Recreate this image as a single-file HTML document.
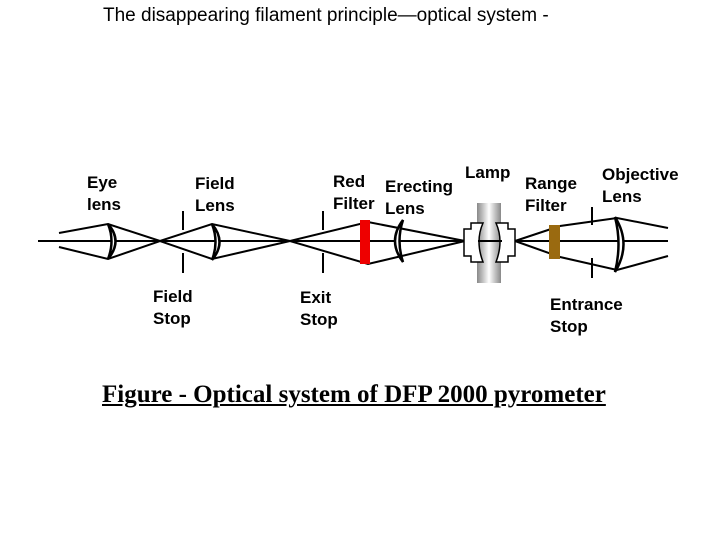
<!DOCTYPE html>
<html><head><style>
body{margin:0;width:720px;height:540px;background:#fff;position:relative;overflow:hidden;font-family:"Liberation Sans",Arial,sans-serif}
.t{position:absolute;font-weight:bold;font-size:17px;line-height:22px;color:#000}
</style></head><body>
<div style="position:absolute;left:103px;top:5px;font-size:19px;white-space:nowrap">The disappearing filament principle—optical system -</div>
<div class="t" style="left:87px;top:172px">Eye<br>lens</div>
<div class="t" style="left:195px;top:173px">Field<br>Lens</div>
<div class="t" style="left:153px;top:286px">Field<br>Stop</div>
<div class="t" style="left:333px;top:171px">Red<br>Filter</div>
<div class="t" style="left:385px;top:176px">Erecting<br>Lens</div>
<div class="t" style="left:300px;top:287px">Exit<br>Stop</div>
<div class="t" style="left:465px;top:162px">Lamp</div>
<div class="t" style="left:525px;top:173px">Range<br>Filter</div>
<div class="t" style="left:602px;top:164px">Objective<br>Lens</div>
<div class="t" style="left:550px;top:294px">Entrance<br>Stop</div>
<div style="position:absolute;left:102px;top:381px;font-family:'Liberation Serif',serif;font-weight:bold;font-size:25px;text-decoration:underline;white-space:nowrap">Figure - Optical system of DFP 2000 pyrometer</div>
<svg width="720" height="540" style="position:absolute;left:0;top:0" fill="none" stroke="#000" stroke-width="2">
<defs><linearGradient id="g" x1="0" x2="1"><stop offset="0" stop-color="#888"/><stop offset=".5" stop-color="#fff"/><stop offset="1" stop-color="#888"/></linearGradient></defs>
<rect x="477" y="203" width="24" height="80" fill="url(#g)" stroke="none"/>
<line x1="38" y1="241" x2="668" y2="241"/>
<polyline points="59,233 108,224 160,241 212,224 290,241 368,222 465,241"/>
<polyline points="59,247 108,259 160,241 212,259 290,241 368,264 465,241"/>
<polyline points="515,241 560,226 617,218 668,228"/>
<polyline points="515,241 560,257 617,270 668,256"/>
<path d="M108,224 Q123,241 108,259 Q115,241 108,224Z" fill="#fff" stroke-width="2.5"/>
<path d="M212,224 Q227,242 212,260 Q219,242 212,224Z" fill="#fff" stroke-width="2.5"/>
<path d="M403,220 Q387,241 403,262 Q396,241 403,220Z" fill="#fff" stroke-width="2.5"/>
<path d="M615,217 Q632,244 615,272 Q622,244 615,217Z" fill="#fff" stroke-width="2.5"/>
<line x1="183" y1="211" x2="183" y2="230"/><line x1="183" y1="253" x2="183" y2="273"/>
<line x1="323" y1="211" x2="323" y2="230"/><line x1="323" y1="253" x2="323" y2="273"/>
<line x1="592" y1="207" x2="592" y2="225"/><line x1="592" y1="258" x2="592" y2="278"/>
<rect x="360" y="220" width="10" height="44" fill="#e00" stroke="none"/>
<rect x="549" y="225" width="11" height="34" fill="#9a6a10" stroke="none"/>
<g stroke-width="1.5" fill="#fff">
<path d="M464,229 h7 v-6 h12 q-8,18 0,39 h-12 v-6 h-7z"/>
<path d="M515,229 h-7 v-6 h-12 q8,18 0,39 h12 v-6 h7z"/>
</g>
<line x1="478" y1="241" x2="502" y2="241"/>
</svg>
</body></html>
